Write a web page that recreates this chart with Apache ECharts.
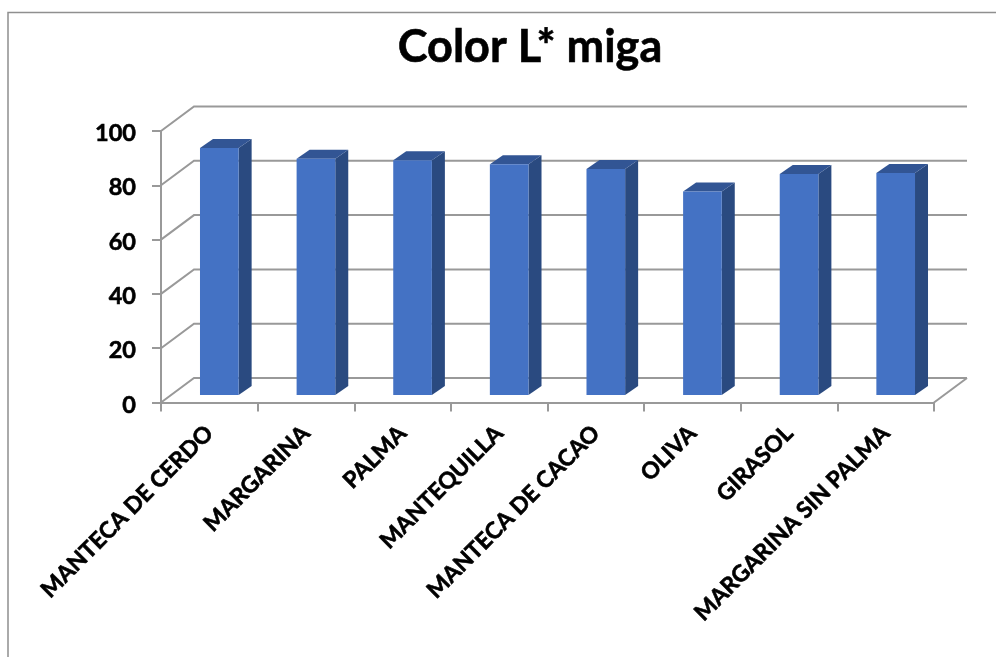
<!DOCTYPE html>
<html>
<head>
<meta charset="utf-8">
<style>html,body{margin:0;padding:0;background:#fff}#chart{width:996px;height:657px}</style>
<script src="https://cdn.jsdelivr.net/npm/echarts@6/dist/echarts.min.js"></script>
</head>
<body>
<div id="chart"></div>
<script>
// L* colour of the crumb for each fat used
const categories = ['MANTECA DE CERDO','MARGARINA','PALMA','MANTEQUILLA','MANTECA DE CACAO','OLIVA','GIRASOL','MARGARINA SIN PALMA'];
const lightness = [91, 87, 86.5, 85, 83.2, 75, 81.4, 81.8];
const yTicks = [0, 20, 40, 60, 80, 100];

// Oblique projection used for the pseudo-3D box
const WALL_DX = 33, WALL_DY = -24.5;
const BAR_SHIFT_X = 10, BAR_SHIFT_Y = -7.5, BAR_DX = 13, BAR_DY = -9;
const FRONT = '#4472C4', SIDE = '#2A4A80', TOP = '#325594', GRID = '#999999';
const FONT = 'Lato, "Open Sans", sans-serif';

function renderWall(params, api) {
  const rect = params.coordSys;
  const p = api.coord([0, api.value(1)]);
  const left = rect.x, right = rect.x + rect.width, y = p[1];
  const style = { stroke: GRID, lineWidth: 2, fill: null };
  const children = [{
    type: 'polyline', silent: true,
    shape: { points: [[left, y], [left + WALL_DX, y + WALL_DY], [right + WALL_DX, y + WALL_DY]] },
    style
  }];
  if (api.value(1) === 0) {
    children.push({
      type: 'polyline', silent: true,
      shape: { points: [[right + WALL_DX, y + WALL_DY], [right, y]] },
      style
    });
  }
  return { type: 'group', children };
}

function renderBar(params, api) {
  const top = api.coord([api.value(0), api.value(1)]);
  const base = api.coord([api.value(0), 0]);
  const w = api.size([1, 0])[0] * 0.4;
  const x0 = top[0] - w / 2 + BAR_SHIFT_X, x1 = x0 + w;
  const yT = top[1] + BAR_SHIFT_Y, yB = base[1] + BAR_SHIFT_Y;
  return {
    type: 'group',
    children: [
      { type: 'polygon', shape: { points: [[x1, yT], [x1 + BAR_DX, yT + BAR_DY], [x1 + BAR_DX, yB + BAR_DY], [x1, yB]] }, style: { fill: SIDE } },
      { type: 'polygon', shape: { points: [[x0, yT], [x0 + BAR_DX, yT + BAR_DY], [x1 + BAR_DX, yT + BAR_DY], [x1, yT]] }, style: { fill: TOP } },
      { type: 'rect', shape: { x: x0, y: yT, width: w, height: yB - yT }, style: { fill: FRONT } }
    ]
  };
}

const chart = echarts.init(document.getElementById('chart'), null, { renderer: 'canvas' });
chart.setOption({
  animation: false,
  backgroundColor: '#fff',
  title: {
    text: 'Color L* miga', left: 525, top: 20, textAlign: 'center',
    textStyle: { fontFamily: FONT, fontSize: 45, fontWeight: 'bold', color: '#000', textBorderColor: '#000', textBorderWidth: 0.6 }
  },
  graphic: [
    { type: 'polyline', silent: true, shape: { points: [[8, 657], [8, 12.5], [996, 12.5]] }, style: { stroke: '#8f8f8f', lineWidth: 1.5, fill: null } }
  ],
  grid: { left: 161, top: 131, width: 773, height: 271.5 },
  xAxis: {
    type: 'category', data: categories, boundaryGap: true,
    axisLine: { lineStyle: { color: GRID, width: 2 } },
    axisTick: { show: true, length: 9, alignWithLabel: false, lineStyle: { color: GRID, width: 2 } },
    axisLabel: { interval: 0, rotate: 45, margin: 27, fontFamily: FONT, fontSize: 22.8, fontWeight: 'bold', color: '#000', textBorderColor: '#000', textBorderWidth: 0.6 }
  },
  yAxis: {
    type: 'value', min: 0, max: 100, interval: 20,
    axisLine: { show: true, lineStyle: { color: GRID, width: 2 } },
    axisTick: { show: true, length: 9, lineStyle: { color: GRID, width: 2 } },
    splitLine: { show: false },
    axisLabel: {
      margin: 25,
      formatter: '{n|{value}}',
      rich: { n: { padding: [5, 0, 0, 0], fontFamily: FONT, fontSize: 23.5, fontWeight: 'bold', color: '#000', textBorderColor: '#000', textBorderWidth: 0.6 } }
    }
  },
  series: [
    { type: 'custom', z: 1, clip: false, silent: true, renderItem: renderWall, encode: { x: 0, y: 1 }, data: yTicks.map(v => [0, v]) },
    { type: 'custom', z: 3, clip: false, renderItem: renderBar, encode: { x: 0, y: 1 }, data: lightness.map((v, i) => [i, v]) }
  ]
});
</script>
</body>
</html>
